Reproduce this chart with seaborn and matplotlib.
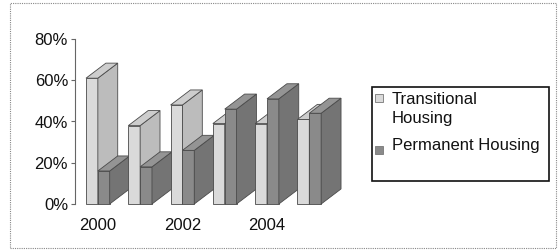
import matplotlib
matplotlib.use('Agg')
import matplotlib.pyplot as plt
import seaborn as sns
import pandas as pd
from matplotlib.patches import Polygon, Rectangle

years = ['2000', '2001', '2002', '2003', '2004', '2005']
transitional = [61, 38, 48, 39, 39, 41]
permanent = [16, 18, 26, 46, 51, 44]
series = ['Transitional Housing', 'Permanent Housing']
legend_labels = ['Transitional\nHousing', 'Permanent Housing']
tick_positions = [0, 2, 4]
tick_labels = ['2000', '2002', '2004']
yticks = [0, 20, 40, 60, 80]

df = pd.DataFrame({
    'year': years * 2,
    'value': transitional + permanent,
    'series': [series[0]] * len(years) + [series[1]] * len(years),
})

sns.set_style('white')
plt.rcParams['font.family'] = ['Liberation Sans', 'DejaVu Sans']

W, H = 558, 250
fig = plt.figure(figsize=(W / 100, H / 100), dpi=100)
ax = fig.add_axes([75 / W, 46 / H, (351.6 - 75) / W, 165 / H])

front = {series[0]: '#dadada', series[1]: '#8a8a8a'}
side = {series[0]: '#bcbcbc', series[1]: '#747474'}
top = {series[0]: '#cdcdcd', series[1]: '#949494'}
edge = '#4a4a4a'

sns.barplot(data=df, x='year', y='value', hue='series', hue_order=series,
            palette=front, width=0.56, ax=ax, legend=False, saturation=1,
            edgecolor=edge, linewidth=0.6)

ax.set_xlim(-0.54, 6.0)
ax.set_ylim(0, 80)

# 3D depth (in data units)
dx, dy = 0.47, 7.3
bars = list(ax.patches)
n = len(years)
info = []
for i, p in enumerate(bars):
    s = series[0] if i < n else series[1]
    info.append((p.get_x(), p, s))
info.sort(key=lambda t: t[0])
for k, (x0, p, s) in enumerate(info):
    z = 2 + k * 0.1
    w = p.get_width()
    h = p.get_height()
    x1 = x0 + w
    p.set_zorder(z)
    p.set_clip_on(False)
    sd = Polygon([(x1, 0), (x1 + dx, dy), (x1 + dx, h + dy), (x1, h)],
                 closed=True, facecolor=side[s], edgecolor=edge, linewidth=0.6,
                 zorder=z, clip_on=False)
    tp = Polygon([(x0, h), (x1, h), (x1 + dx, h + dy), (x0 + dx, h + dy)],
                 closed=True, facecolor=top[s], edgecolor=edge, linewidth=0.6,
                 zorder=z, clip_on=False)
    ax.add_patch(sd)
    ax.add_patch(tp)

ax.set_xticks(tick_positions)
ax.set_xticklabels(tick_labels)
ax.set_yticks(yticks)
ax.set_yticklabels([f'{v}%' for v in yticks])
ax.set_xlabel('')
ax.set_ylabel('')
for sp in ['top', 'right', 'bottom']:
    ax.spines[sp].set_visible(False)
ax.spines['left'].set_linestyle((0, (1, 1)))
ax.spines['left'].set_color('#666666')
ax.spines['left'].set_linewidth(0.8)
ax.tick_params(axis='y', left=True, length=3, width=0.8, color='#666666',
               direction='out', labelsize=12, pad=2, labelcolor='#111111')
ax.tick_params(axis='x', bottom=False, length=0, labelsize=12, pad=10,
               labelcolor='#111111')
ax.set_facecolor('none')

# legend (drawn manually in figure pixels)
def fx(px):
    return px / W

def fy(py):
    return 1 - py / H

marker_tops = [94, 146]
last_baselines = [123, 150]
for s, lab, mt, bl in zip(series, legend_labels, marker_tops, last_baselines):
    fig.patches.append(Rectangle((fx(375), fy(mt + 8)), 8 / W, 8 / H,
                                 transform=fig.transFigure, facecolor=front[s],
                                 edgecolor='#777777', linewidth=0.6))
    fig.text(fx(392), fy(bl), lab, fontsize=12, va='baseline', ha='left',
             color='#111111', linespacing=1.35)
fig.patches.append(Rectangle((fx(372), fy(181)), (549 - 372) / W, (181 - 87) / H,
                             transform=fig.transFigure, fill=False,
                             edgecolor='#111111', linewidth=1.2))
# outer chart border
fig.patches.append(Rectangle((fx(10), fy(248)), (556 - 10) / W, (248 - 3) / H,
                             transform=fig.transFigure, fill=False,
                             edgecolor='#888888', linewidth=0.8, linestyle=(0, (1, 1))))

fig.savefig('out.png', dpi=100)
